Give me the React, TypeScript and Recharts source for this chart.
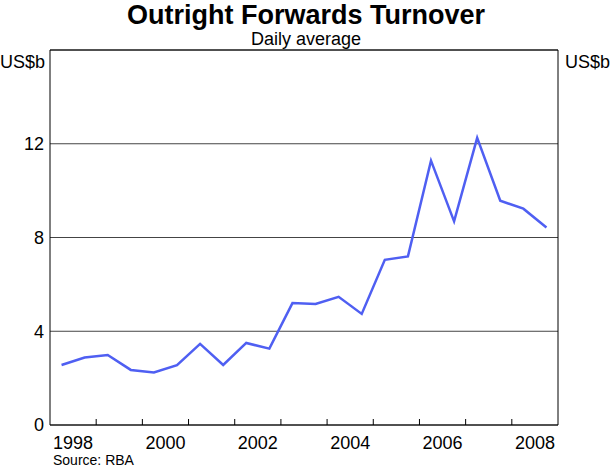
import { LineChart, Line, XAxis, YAxis, CartesianGrid, ReferenceLine } from 'recharts';

// semi-annual survey months
const surveyDates = [
  '1998-04', '1998-10', '1999-04', '1999-10', '2000-04', '2000-10',
  '2001-04', '2001-10', '2002-04', '2002-10', '2003-04', '2003-10',
  '2004-04', '2004-10', '2005-04', '2005-10', '2006-04', '2006-10',
  '2007-04', '2007-10', '2008-04', '2008-10',
];

// US$b, daily average
const turnover = [
  2.56, 2.88, 2.99, 2.35, 2.24, 2.55,
  3.46, 2.56, 3.5, 3.26, 5.2, 5.16,
  5.47, 4.74, 7.05, 7.19, 11.28, 8.69,
  12.25, 9.57, 9.23, 8.43,
];

const yearTicks = [1999, 2000, 2001, 2002, 2003, 2004, 2005, 2006, 2007, 2008];
const yearLabels = ['1998', '2000', '2002', '2004', '2006', '2008'];
const valueTicks = [0, 4, 8, 12];

const toYear = (d: string) => {
  const [y, m] = d.split('-').map(Number);
  return y + (m - 1) / 12;
};

const data = surveyDates.map((d, i) => ({ t: toYear(d), value: turnover[i] }));

const xTicks = [...yearTicks, ...yearLabels.map((y) => Number(y) + 0.5)].sort((a, b) => a - b);

const font = 'Arial, "Liberation Sans", sans-serif';

const YearTick = (props: any) => {
  const { x, y, payload } = props;
  const v = payload.value;
  if (Number.isInteger(v)) {
    return <line x1={x} x2={x} y1={y} y2={y - 6} stroke="#000" />;
  }
  return (
    <text x={x} y={y + 24} textAnchor="middle" fontSize={18} fontFamily={font} fill="#000">
      {Math.floor(v)}
    </text>
  );
};

export default function App() {
  return (
    <div style={{ position: 'absolute', left: 0, top: 0, width: 612, height: 468, background: '#fff' }}>
      <LineChart
        width={612}
        height={468}
        data={data}
        margin={{ top: 50, right: 0, bottom: 0, left: 0 }}
      >
        <CartesianGrid yAxisId="left" vertical={false} stroke="#444" />
        <XAxis
          dataKey="t"
          type="number"
          domain={[1998, 2009]}
          ticks={xTicks}
          interval={0}
          height={43}
          tickSize={0}
          tickMargin={0}
          tickLine={false}
          axisLine={{ stroke: '#000' }}
          tick={<YearTick />}
        />
        <YAxis
          yAxisId="left"
          orientation="left"
          width={50}
          domain={[0, 16]}
          ticks={valueTicks}
          tickSize={0}
          tickMargin={6}
          tickLine={false}
          axisLine={{ stroke: '#000' }}
          tick={{ fill: '#000', fontSize: 18, fontFamily: font }}
        />
        <YAxis
          yAxisId="right"
          orientation="right"
          width={54}
          domain={[0, 16]}
          ticks={valueTicks}
          tickSize={0}
          tickMargin={7}
          tickLine={false}
          axisLine={{ stroke: '#000' }}
          tick={{ fill: '#000', fontSize: 18, fontFamily: font }}
        />
        <ReferenceLine yAxisId="left" y={16} stroke="#000" />
        <Line
          yAxisId="left"
          dataKey="value"
          type="linear"
          stroke="#4f5ff2"
          strokeWidth={2.5}
          dot={false}
          isAnimationActive={false}
        />
      </LineChart>
      <svg
        width={612}
        height={468}
        style={{ position: 'absolute', left: 0, top: 0, pointerEvents: 'none' }}
        fontFamily={font}
      >
        <text x={306} y={24} textAnchor="middle" fontSize={27} fontWeight="bold">
          Outright Forwards Turnover
        </text>
        <text x={306} y={45} textAnchor="middle" fontSize={18}>
          Daily average
        </text>
        <text x={0} y={68} fontSize={18}>US$b</text>
        <text x={565} y={68} fontSize={18}>US$b</text>
        <text x={53} y={465} fontSize={14}>Source: RBA</text>
      </svg>
    </div>
  );
}
